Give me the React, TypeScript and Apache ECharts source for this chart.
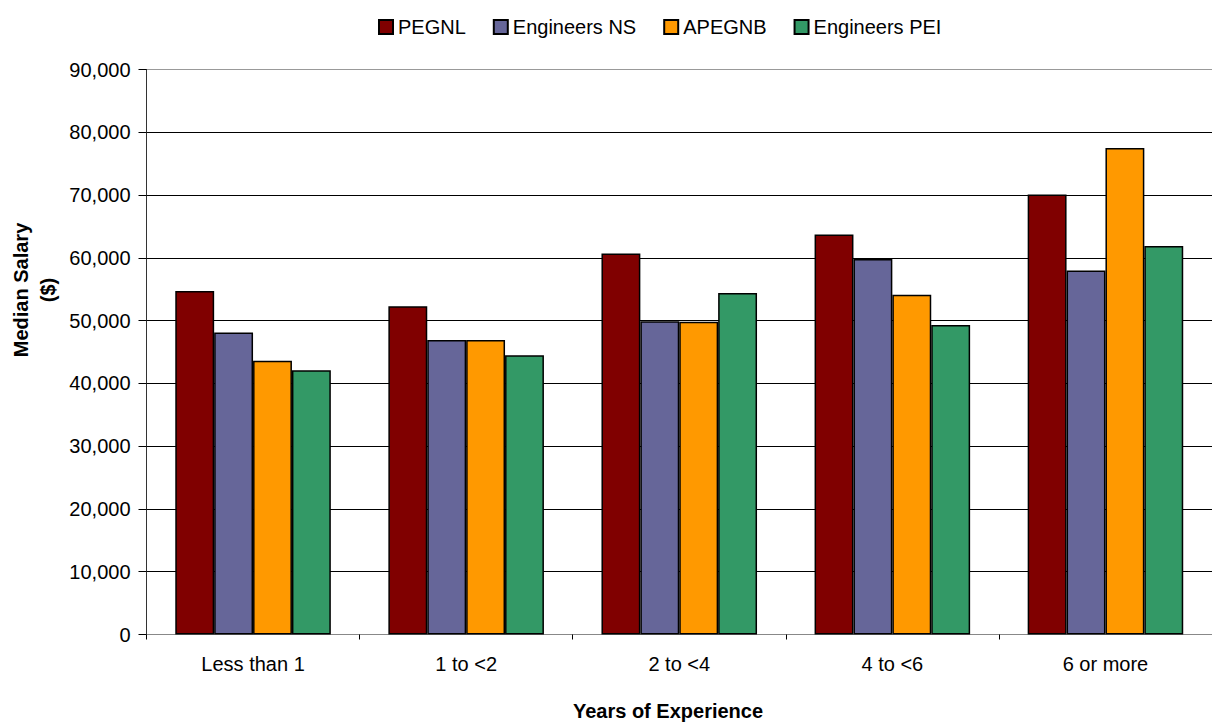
import React, { useEffect, useRef } from "react";
import * as echarts from "echarts";

const categories = ["Less than 1", "1 to <2", "2 to <4", "4 to <6", "6 or more"];
const seriesNames = ["PEGNL", "Engineers NS", "APEGNB", "Engineers PEI"];
const pegnl = [54700, 52300, 60700, 63700, 70100];
const engineersNS = [48100, 46900, 49900, 59800, 58000];
const apegnb = [43600, 46900, 49800, 54100, 77500];
const engineersPEI = [42100, 44500, 54400, 49300, 61900];
const colors = ["#800000", "#666699", "#FF9900", "#339966"];
const yTicks = [0, 90000, 10000];

const FONT = "'Liberation Sans', Arial, sans-serif";

export default function App() {
  const ref = useRef<HTMLDivElement>(null);
  useEffect(() => {
    if (!ref.current) return;
    const chart = echarts.init(ref.current, null, { renderer: "svg" });
    const values = [pegnl, engineersNS, apegnb, engineersPEI];
    const gridColors = ["#000", "#000", "#000", "#000", "#000", "#000", "#000", "#000", "#000", "#999"];
    chart.setOption({
      animation: false,
      backgroundColor: "#fff",
      textStyle: { fontFamily: FONT },
      legend: {
        left: 373,
        top: 12,
        itemWidth: 14,
        itemHeight: 14,
        itemGap: 27,
        icon: "rect",
        textStyle: { fontSize: 20, color: "#000", fontFamily: FONT },
        data: seriesNames,
      },
      grid: { left: 146.5, right: -7, top: 69.5, bottom: 90.5, containLabel: false },
      xAxis: {
        type: "category",
        data: categories,
        axisLine: { show: true, lineStyle: { color: "#888", width: 1 } },
        axisTick: { show: true, alignWithLabel: false, length: 5, lineStyle: { color: "#000" } },
        axisLabel: { fontSize: 20, color: "#000", margin: 19, fontFamily: FONT },
        splitLine: { show: false },
      },
      yAxis: {
        type: "value",
        min: yTicks[0],
        max: yTicks[1],
        interval: yTicks[2],
        axisLine: { show: true, lineStyle: { color: "#333", width: 1 } },
        axisTick: { show: true, length: 8, lineStyle: { color: "#000" } },
        axisLabel: {
          fontSize: 20,
          color: "#000",
          margin: 16,
          fontFamily: FONT,
          formatter: (v: number) => v.toLocaleString("en-US"),
        },
        splitLine: { show: true, lineStyle: { color: gridColors, width: 1 } },
      },
      graphic: [
        {
          type: "text",
          x: 34.5,
          y: 290,
          rotation: Math.PI / 2,
          style: {
            text: "Median Salary\n($)",
            font: `bold 20px ${FONT}`,
            fill: "#000",
            align: "center",
            verticalAlign: "middle",
            lineHeight: 27,
          },
        },
        {
          type: "text",
          x: 668,
          y: 711,
          style: {
            text: "Years of Experience",
            font: `bold 20px ${FONT}`,
            fill: "#000",
            align: "center",
            verticalAlign: "middle",
          },
        },
      ],
      series: seriesNames.map((name, i) => ({
        name,
        type: "bar",
        data: values[i],
        barGap: "0%",
        barCategoryGap: "27%",
        itemStyle: { color: colors[i], borderColor: "#000", borderWidth: 1.5 },
      })),
    });
    return () => chart.dispose();
  }, []);
  return <div ref={ref} style={{ width: 1212, height: 725, position: "absolute", left: 0, top: 0 }} />;
}
